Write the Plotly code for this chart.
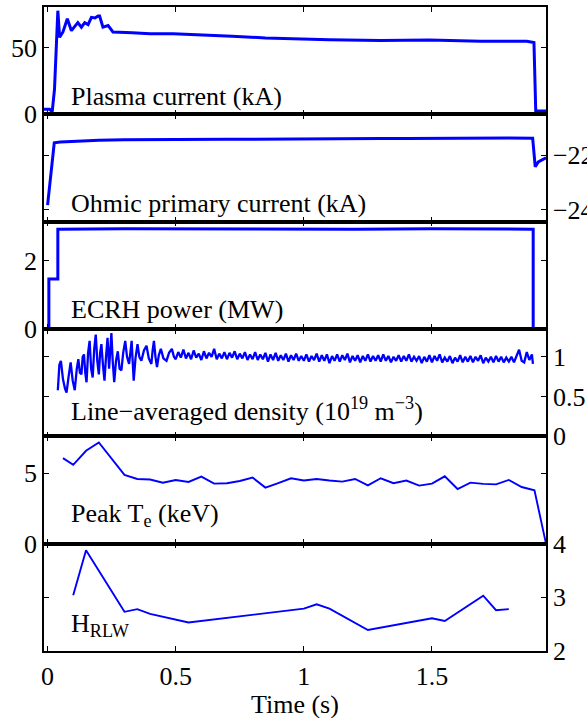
import plotly.graph_objects as go

# ---------------- data ----------------
ip_t = [-0.014, 0.008, 0.018, 0.027, 0.040, 0.047, 0.060, 0.077, 0.093, 0.118, 0.132, 0.145,
        0.158, 0.171, 0.185, 0.197, 0.203, 0.216, 0.236, 0.255, 0.33, 0.40, 0.49, 0.59,
        0.72, 0.85, 0.98, 1.10, 1.30, 1.49, 1.69, 1.87, 1.898, 1.905, 1.945]
ip_v = [3.8, 3.8, 2.0, 19, 78, 58, 62, 72, 63, 69, 65.6, 69,
        67.6, 73, 72.5, 74, 74, 65.6, 66.9, 62, 61.5, 60.6, 60.6, 60,
        58.8, 57.5, 56.7, 56.2, 55.5, 56, 55, 55, 54, 2.5, 2.5]

oh_t = [0.0, 0.026, 0.05, 0.10, 0.15, 0.20, 0.30, 0.40, 0.50, 0.60, 0.70, 0.80, 0.90,
        1.00, 1.10, 1.20, 1.30, 1.40, 1.50, 1.60, 1.70, 1.80, 1.893, 1.903, 1.915, 1.945]
oh_v = [-23.84, -21.55, -21.52, -21.50, -21.47, -21.45, -21.44, -21.43, -21.43, -21.42, -21.42,
        -21.42, -21.41, -21.41, -21.40, -21.40, -21.39, -21.39, -21.38, -21.38, -21.37, -21.37,
        -21.38, -22.43, -22.25, -22.10]

ec_t = [0.005, 0.005, 0.040, 0.040, 0.30, 0.60, 0.90, 1.20, 1.50, 1.80, 1.895, 1.895, 1.945]
ec_v = [0.0, 1.47, 1.47, 2.93, 2.94, 2.93, 2.94, 2.93, 2.94, 2.93, 2.93, 0.0, 0.0]

ne_t = [0.040, 0.046, 0.052, 0.060, 0.068, 0.074, 0.082, 0.090, 0.098, 0.106, 0.114, 0.120,
        0.126, 0.132, 0.137, 0.142, 0.147, 0.152, 0.158, 0.164, 0.170, 0.176, 0.182, 0.188,
        0.194, 0.200, 0.205, 0.210, 0.216, 0.222, 0.228, 0.234, 0.240, 0.244, 0.249, 0.254,
        0.260, 0.267, 0.274, 0.281, 0.288, 0.295, 0.303, 0.310, 0.318, 0.323, 0.328, 0.332,
        0.336, 0.343, 0.351, 0.358, 0.366, 0.376, 0.386, 0.395, 0.405, 0.410, 0.415, 0.421,
        0.427, 0.434, 0.442, 0.452, 0.464, 0.474, 0.485, 0.493,
        0.50, 0.51, 0.52, 0.53, 0.54, 0.55, 0.56, 0.57, 0.58, 0.59, 0.60, 0.61, 0.62, 0.63,
        0.64, 0.65, 0.66, 0.67, 0.68, 0.69, 0.70, 0.71, 0.72, 0.73, 0.74, 0.75, 0.76, 0.77,
        0.78, 0.79, 0.80, 0.81, 0.82, 0.83, 0.84, 0.85, 0.86, 0.87, 0.88, 0.89, 0.90, 0.91,
        0.92, 0.93, 0.94, 0.95, 0.96, 0.97, 0.98, 0.99, 1.00, 1.01, 1.02, 1.03, 1.04, 1.05,
        1.06, 1.07, 1.08, 1.09, 1.10, 1.11, 1.12, 1.13, 1.14, 1.15, 1.16, 1.17, 1.18, 1.19,
        1.20, 1.21, 1.22, 1.23, 1.24, 1.25, 1.26, 1.27, 1.28, 1.29, 1.30, 1.31, 1.32, 1.33,
        1.34, 1.35, 1.36, 1.37, 1.38, 1.39, 1.40, 1.41, 1.42, 1.43, 1.44, 1.45, 1.46, 1.47,
        1.48, 1.49, 1.50, 1.51, 1.52, 1.53, 1.54, 1.55, 1.56, 1.57, 1.58, 1.59, 1.60, 1.61,
        1.62, 1.63, 1.64, 1.65, 1.66, 1.67, 1.68, 1.69, 1.70, 1.71, 1.72, 1.73, 1.74, 1.75,
        1.76, 1.77, 1.78, 1.79, 1.80, 1.81, 1.82, 1.83, 1.84, 1.85, 1.86, 1.87, 1.88, 1.89,
        1.894]
ne_v = [0.58, 0.90, 0.95, 0.72, 0.60, 0.55, 0.75, 0.93, 0.70, 0.58, 0.85, 0.97,
        0.80, 0.78, 1.00, 1.03, 0.80, 0.68, 1.05, 1.20, 0.85, 0.74, 1.10, 1.28,
        0.95, 0.78, 1.05, 1.16, 0.90, 0.70, 1.00, 1.24, 0.85, 1.10, 1.30, 0.95,
        0.68, 0.95, 1.07, 0.85, 0.83, 1.05, 1.20, 1.00, 0.91, 1.05, 1.20, 0.95,
        0.70, 0.98, 1.16, 1.00, 0.95, 1.08, 1.14, 0.98, 0.91, 1.08, 1.20, 1.00,
        0.87, 1.02, 1.10, 0.98, 0.95, 1.05, 1.10, 1.00,
        0.97, 1.06, 0.99, 1.09, 0.98, 1.05, 0.97, 1.08, 0.99, 1.04, 0.96, 1.07, 0.98, 1.05,
        1.00, 1.10, 0.97, 1.04, 0.98, 1.06, 0.97, 1.05, 0.99, 1.07, 0.97, 1.04, 0.98, 1.06,
        0.96, 1.03, 0.97, 1.06, 0.96, 1.03, 0.97, 1.05, 0.94, 1.03, 0.96, 1.05, 0.95, 1.02,
        0.96, 1.04, 0.94, 1.02, 0.96, 1.04, 0.95, 1.01, 0.95, 1.03, 0.94, 1.01, 0.96, 1.04,
        0.94, 1.02, 0.95, 1.03, 0.92, 1.01, 0.95, 1.03, 0.94, 1.02, 0.96, 1.04, 0.93, 1.01,
        0.95, 1.02, 0.93, 1.01, 0.95, 1.03, 0.94, 1.01, 0.95, 1.02, 0.94, 1.03, 0.95, 1.01,
        0.93, 1.00, 0.95, 1.02, 0.94, 1.01, 0.95, 1.03, 0.94, 1.00, 0.95, 1.01, 0.92, 1.00,
        0.94, 1.02, 0.93, 1.01, 0.95, 1.03, 0.93, 0.99, 0.94, 1.01, 0.92, 0.99, 0.94, 1.02,
        0.93, 1.00, 0.94, 1.01, 0.93, 1.00, 0.95, 1.02, 0.92, 0.99, 0.94, 1.00, 0.93, 1.01,
        0.94, 1.00, 0.93, 0.99, 0.94, 1.00, 0.93, 1.01, 1.09, 0.95, 0.93, 1.06, 0.96, 1.03,
        0.91]

te_t = [0.06, 0.10, 0.15, 0.20, 0.30, 0.35, 0.40, 0.45, 0.50, 0.55, 0.60, 0.65, 0.70, 0.75,
        0.80, 0.85, 0.90, 0.95, 1.00, 1.05, 1.10, 1.15, 1.20, 1.25, 1.30, 1.35, 1.40, 1.45,
        1.50, 1.55, 1.60, 1.65, 1.70, 1.75, 1.80, 1.85, 1.90, 1.945]
te_v = [6.06, 5.58, 6.58, 7.17, 4.87, 4.58, 4.54, 4.32, 4.51, 4.37, 4.75, 4.25, 4.28, 4.44,
        4.68, 3.97, 4.28, 4.63, 4.47, 4.58, 4.47, 4.39, 4.58, 4.13, 4.63, 4.28, 4.47, 4.11,
        4.25, 4.77, 3.87, 4.32, 4.23, 4.20, 4.51, 4.01, 3.78, 0.0]

h_t = [0.10, 0.15, 0.30, 0.35, 0.40, 0.55, 1.00, 1.05, 1.10, 1.25, 1.50, 1.55, 1.70, 1.75, 1.80]
h_v = [3.04, 3.88, 2.73, 2.78, 2.69, 2.53, 2.79, 2.87, 2.79, 2.39, 2.61, 2.56, 3.03, 2.76, 2.78]

x_ticks = [0, 0.5, 1, 1.5]
x_ticktext = ["0", "0.5", "1", "1.5"]
x_title = "Time (s)"

panels = [
    dict(t=ip_t, v=ip_v, rng=[0, 80.8], ticks=[0, 50], side="left", w=3.0,
         label="Plasma current (kA)", ly=0.17),
    dict(t=oh_t, v=oh_v, rng=[-24.45, -20.5], ticks=[-24, -22], side="right", w=3.0,
         label="Ohmic primary current (kA)", ly=0.17),
    dict(t=ec_t, v=ec_v, rng=[0, 3.15], ticks=[0, 2], side="left", w=3.0,
         label="ECRH power (MW)", ly=0.18),
    dict(t=ne_t, v=ne_v, rng=[0, 1.35], ticks=[0, 0.5, 1], side="right", w=2.3,
         label="Line\u2212averaged density (10<sup>19</sup> m<sup>\u22123</sup>)", ly=0.25),
    dict(t=te_t, v=te_v, rng=[0, 7.6], ticks=[0, 5], side="left", w=1.9,
         label="Peak T<sub>e</sub> (keV)", ly=0.27),
    dict(t=h_t, v=h_v, rng=[1.999, 4.001], ticks=[2, 3, 4], side="right", w=1.9,
         label="H<sub>RLW</sub>", ly=0.24),
]

FONT = "Liberation Serif"
FS = 26
fig = go.Figure()
n = len(panels)
layout = dict(
    template="none",
    width=587, height=718,
    margin=dict(l=44, r=41, t=7, b=67, pad=0),
    paper_bgcolor="white", plot_bgcolor="white",
    showlegend=False,
    font=dict(family=FONT, size=FS, color="black"),
    annotations=[],
)
for i, p in enumerate(panels):
    k = "" if i == 0 else str(i + 1)
    fig.add_trace(go.Scatter(x=p["t"], y=p["v"], mode="lines",
                             line=dict(color="#0000ff", width=p["w"]),
                             xaxis="x" + k, yaxis="y" + k, hoverinfo="skip"))
    top = 1 - i / n
    bot = 1 - (i + 1) / n
    xa = dict(domain=[0, 1], range=[-0.014, 1.945], anchor="y" + k, automargin=False,
              tickvals=x_ticks, ticktext=x_ticktext, ticks="inside", ticklen=5,
              tickwidth=1.3, tickcolor="black", showline=True, linecolor="black",
              linewidth=1.5, mirror="ticks", showgrid=False, zeroline=False,
              showticklabels=(i == n - 1), tickfont=dict(size=FS, family=FONT))
    if i > 0:
        xa["matches"] = "x"
    if i == n - 1:
        xa["ticklabelstandoff"] = 1
    ya = dict(domain=[bot, top], range=p["rng"], anchor="x" + k, side=p["side"],
              automargin=False,
              tickvals=p["ticks"], ticks="inside", ticklen=5, tickwidth=1.3,
              tickcolor="black", showline=True, linecolor="black", linewidth=1.5,
              mirror="ticks", showgrid=False, zeroline=False,
              tickfont=dict(size=FS, family=FONT))
    layout["xaxis" + k] = xa
    layout["yaxis" + k] = ya
    layout["annotations"].append(dict(
        text=p["label"], xref="x" + k + " domain", yref="y" + k + " domain",
        x=0.05, y=p["ly"], xanchor="left", yanchor="middle", showarrow=False,
        font=dict(size=FS, family=FONT, color="black")))

layout["annotations"].append(dict(
    text=x_title, xref="paper", yref="paper", x=0.5, y=-0.0823,
    xanchor="center", yanchor="middle", showarrow=False,
    font=dict(size=FS, family=FONT, color="black")))

fig.update_layout(**layout)
fig.write_html("out.html", config={"displayModeBar": False},
               post_script="document.body.style.margin='0';")
